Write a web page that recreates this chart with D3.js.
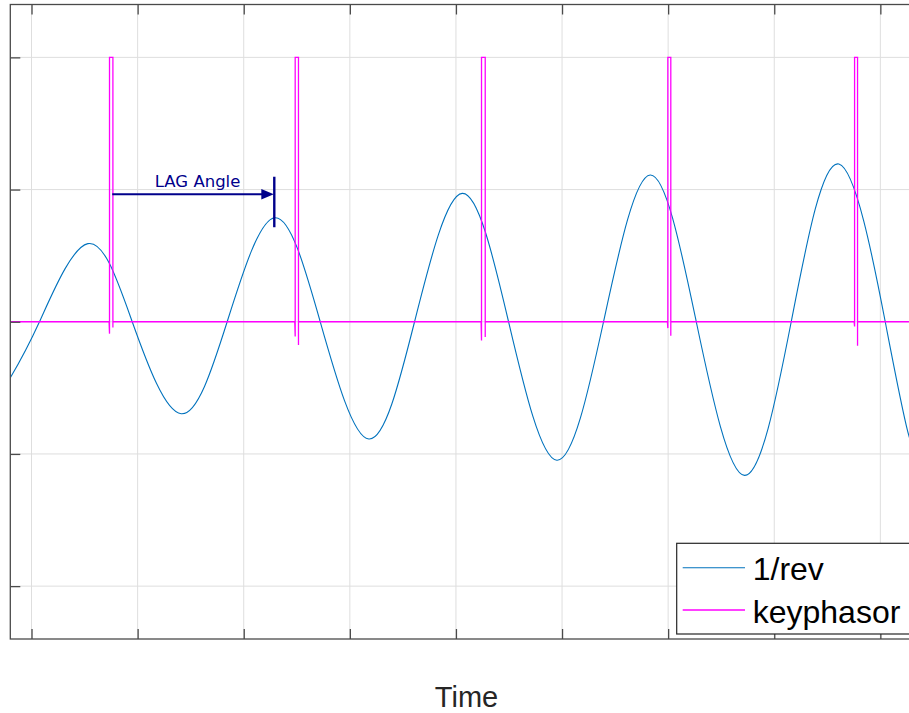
<!DOCTYPE html>
<html>
<head>
<meta charset="utf-8">
<script src="https://cdn.jsdelivr.net/npm/d3@7"></script>
<style>
  html, body { margin: 0; padding: 0; background: #fff; overflow: hidden; }
  svg { display: block; }
</style>
</head>
<body>
<div id="chart"></div>
<script>
// ---- data (time in tick units, amplitude in grid units) ----
// 1/rev vibration: samples at extrema and zero crossings
const revTime  = [-0.2, 0.075, 0.531, 0.949, 1.411, 1.844, 2.293, 2.721, 3.179, 3.610,
                  4.059, 4.496, 4.951, 5.391, 5.831, 6.265, 6.720, 7.160, 7.609, 8.046, 8.266, 8.4];
const revValue = [-0.424, 0, 0.591, 0, -0.696, 0, 0.787, 0, -0.887, 0,
                  0.971, 0, -1.048, 0, 1.110, 0, -1.162, 0, 1.193, 0, -0.854, -1.08];

// keyphasor pulses: rising edge, falling edge, undershoot at each edge
const pulseRise   = [0.735, 2.485, 4.241, 5.997, 7.757];
const pulseFall   = [0.767, 2.516, 4.276, 6.025, 7.785];
const pulseHigh   = 2.0;
const dipRise     = [-0.09, -0.112, -0.142, -0.048, -0.036];
const dipFall     = [-0.044, -0.175, -0.116, -0.106, -0.182];

// axis ticks (unlabelled)
const xTicks = [0, 1, 2, 3, 4, 5, 6, 7, 8];
const yTicks = [-2, -1, 0, 1, 2];
const xDomain = [-0.2, 8.4];
const yDomain = [-2.4, 2.4];

// lag annotation: from keyphasor pulse to the following 1/rev peak
const lagStart = [0.761, 0.965];
const lagEnd   = [2.288, 0.965];
const lagBar   = [1.097, 0.715];
const lagLabel = { text: "LAG Angle", t: 1.565, v: 1.017 };

const seriesNames = ["1/rev", "keyphasor"];
const seriesColors = ["#0072BD", "#FF00FF"];

// ---- layout ----
const W = 909, H = 713;
const pLeft = 10.3, pRight = 922.8, pTop = 4.5, pBottom = 639;

const svg = d3.select("#chart").append("svg")
  .attr("width", W).attr("height", H);

const x = d3.scaleLinear().domain(xDomain).range([pLeft, pRight]);
const y = d3.scaleLinear().domain(yDomain).range([pBottom, pTop]);

svg.append("defs").append("clipPath").attr("id", "plotClip")
  .append("rect").attr("x", pLeft).attr("y", pTop)
  .attr("width", pRight - pLeft).attr("height", pBottom - pTop);

// grid
const grid = svg.append("g").attr("stroke", "#dedede").attr("stroke-width", 1);
grid.selectAll("line.gx").data(xTicks).join("line").attr("class", "gx")
  .attr("x1", d => x(d)).attr("x2", d => x(d))
  .attr("y1", pTop).attr("y2", pBottom);
grid.selectAll("line.gy").data(yTicks).join("line").attr("class", "gy")
  .attr("y1", d => y(d)).attr("y2", d => y(d))
  .attr("x1", pLeft).attr("x2", pRight);

// series
const plot = svg.append("g").attr("clip-path", "url(#plotClip)");

const revData = revTime.map((t, i) => [t, revValue[i]]);
plot.append("path")
  .datum(revData)
  .attr("fill", "none")
  .attr("stroke", seriesColors[0])
  .attr("stroke-width", 1.1)
  .attr("d", d3.line().x(d => x(d[0])).y(d => y(d[1])).curve(d3.curveNatural));

const keyData = [[xDomain[0], 0]];
pulseRise.forEach((r, i) => {
  const f = pulseFall[i];
  keyData.push([r - 0.004, 0], [r, dipRise[i]], [r, 0], [r, pulseHigh],
               [f, pulseHigh], [f, dipFall[i]], [f, 0], [f + 0.004, 0]);
});
keyData.push([xDomain[1], 0]);
plot.append("path")
  .datum(keyData)
  .attr("fill", "none")
  .attr("stroke", seriesColors[1])
  .attr("stroke-width", 1.3)
  .attr("d", d3.line().x(d => x(d[0])).y(d => y(d[1])));

// axes box and inward ticks
const axisColor = "#4a4a4a";
const tickLen = 10;
const axisG = svg.append("g");
axisG.append("g").attr("transform", `translate(0,${pBottom})`)
  .call(d3.axisTop(x).tickValues(xTicks).tickSize(tickLen).tickFormat(""));
axisG.append("g").attr("transform", `translate(0,${pTop})`)
  .call(d3.axisBottom(x).tickValues(xTicks).tickSize(tickLen).tickFormat(""));
axisG.append("g").attr("transform", `translate(${pLeft},0)`)
  .call(d3.axisRight(y).tickValues(yTicks).tickSize(tickLen).tickFormat(""));
axisG.append("g").attr("transform", `translate(${pRight},0)`)
  .call(d3.axisLeft(y).tickValues(yTicks).tickSize(tickLen).tickFormat(""));
axisG.selectAll("path.domain").remove();
axisG.selectAll("line").attr("stroke", axisColor).attr("stroke-width", 1.3);
axisG.append("rect")
  .attr("x", pLeft).attr("y", pTop)
  .attr("width", pRight - pLeft).attr("height", pBottom - pTop)
  .attr("fill", "none").attr("stroke", axisColor).attr("stroke-width", 1.3);

// x-axis title
svg.append("text")
  .attr("x", (pLeft + pRight) / 2).attr("y", 706.5)
  .attr("text-anchor", "middle")
  .attr("font-family", "'Liberation Sans', Arial, sans-serif")
  .attr("font-size", 29)
  .attr("fill", "#262626")
  .text("Time");

// lag annotation
const navy = "#00008B";
const ann = svg.append("g");
const ax0 = x(lagStart[0]), ax1 = x(lagEnd[0]), ay = y(lagStart[1]);
ann.append("line")
  .attr("x1", ax0).attr("x2", ax1 - 10).attr("y1", ay).attr("y2", ay)
  .attr("stroke", navy).attr("stroke-width", 2);
ann.append("path")
  .attr("d", `M${ax1 - 0.5},${ay} L${ax1 - 13},${ay - 5.3} L${ax1 - 13},${ay + 5.3} Z`)
  .attr("fill", navy);
ann.append("line")
  .attr("x1", ax1).attr("x2", ax1)
  .attr("y1", y(lagBar[0])).attr("y2", y(lagBar[1]))
  .attr("stroke", navy).attr("stroke-width", 2.4);
ann.append("text")
  .attr("x", x(lagLabel.t)).attr("y", y(lagLabel.v))
  .attr("text-anchor", "middle")
  .attr("font-family", "'DejaVu Sans', Verdana, sans-serif")
  .attr("font-size", 16.5)
  .attr("fill", navy)
  .text(lagLabel.text);

// legend
const lg = svg.append("g");
const lgLeft = 676.7, lgTop = 543.3, lgBottom = 634, lgRight = 918;
lg.append("rect")
  .attr("x", lgLeft).attr("y", lgTop)
  .attr("width", lgRight - lgLeft).attr("height", lgBottom - lgTop)
  .attr("fill", "#fff").attr("stroke", "#262626").attr("stroke-width", 1.2);
const rowY = [567.7, 610];
seriesNames.forEach((name, i) => {
  lg.append("line")
    .attr("x1", 682.7).attr("x2", 745)
    .attr("y1", rowY[i]).attr("y2", rowY[i])
    .attr("stroke", seriesColors[i]).attr("stroke-width", i === 0 ? 1.1 : 1.3);
  lg.append("text")
    .attr("x", 752.7).attr("y", rowY[i] + 12.5)
    .attr("font-family", "'Liberation Sans', Arial, sans-serif")
    .attr("font-size", 32)
    .attr("fill", "#000")
    .text(name);
});
</script>
</body>
</html>
